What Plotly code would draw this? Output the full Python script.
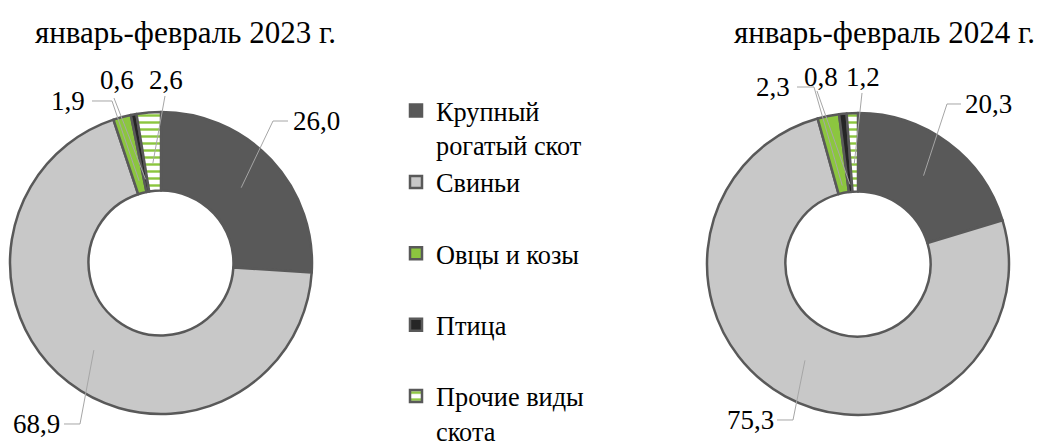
import math
import plotly.graph_objects as go

W, H = 1041, 443

categories = ["Крупный рогатый скот", "Свиньи", "Овцы и козы", "Птица", "Прочие виды скота"]
legend_labels = ["Крупный<br>рогатый скот", "Свиньи<br> ", "Овцы и козы<br> ", "Птица<br> ", "Прочие виды<br>скота"]
values_2023 = [26.0, 68.9, 1.9, 0.6, 2.6]
values_2024 = [20.3, 75.3, 2.3, 0.8, 1.2]
label_text_2023 = ["26,0", "68,9", "1,9", "0,6", "2,6"]
label_text_2024 = ["20,3", "75,3", "2,3", "0,8", "1,2"]
titles = ["январь-февраль 2023 г.", "январь-февраль 2024 г."]

colors = ["#595959", "#c8c8c8", "#8cc63f", "#262626", "#ffffff"]
FONT = "Liberation Serif"

# pie geometry and label placement (pixels)
pies = [
    dict(cx=161, cy=263, r=151, vals=values_2023, txt=label_text_2023, title_x=185,
         text_pos=[(316, 121), (36, 424), (68, 101), (117, 80), (166, 80)],
         waypoints=[[(288, 121), (273, 121)], [(64, 424), (80, 424)],
                    [(92, 101), (112, 101)], [(114, 98)], [(165, 96)]],
         rr=[110, 110, 85, 85, 100]),
    dict(cx=858, cy=264, r=151, vals=values_2024, txt=label_text_2024, title_x=884,
         text_pos=[(988, 104), (750, 420), (773, 87), (821, 77), (863, 77)],
         waypoints=[[(961, 104), (947, 104)], [(777, 420), (793, 420)],
                    [(797, 87), (814, 87)], [(817, 91)], [(862, 93)]],
         rr=[110, 110, 80, 80, 100]),
]


def to_paper(x, y):
    return x / W, 1 - y / H


fig = go.Figure()
annotations = []
shapes = []
for i, p in enumerate(pies):
    x0, y1 = to_paper(p["cx"] - p["r"], p["cy"] - p["r"])
    x1, y0 = to_paper(p["cx"] + p["r"], p["cy"] + p["r"])
    fig.add_trace(go.Pie(
        labels=legend_labels,
        values=p["vals"],
        sort=False,
        direction="clockwise",
        rotation=0,
        hole=0.48,
        textinfo="none",
        hoverinfo="label+value",
        domain=dict(x=[x0, x1], y=[y0, y1]),
        marker=dict(
            colors=colors,
            line=dict(color="#595959", width=2.5),
            pattern=dict(shape=["", "", "", "", "-"], fgcolor="#8cc63f",
                         bgcolor="#ffffff", size=7, solidity=0.35),
        ),
        showlegend=(i == 0),
    ))
    total = sum(p["vals"])
    cum = 0.0
    for v, t, (tx, ty), wps, rr in zip(p["vals"], p["txt"], p["text_pos"],
                                        p["waypoints"], p["rr"]):
        mid = (cum + v / 2) / total * 2 * math.pi
        cum += v
        px = p["cx"] + rr * math.sin(mid)
        py = p["cy"] - rr * math.cos(mid)
        pts = [to_paper(*w) for w in wps] + [to_paper(px, py)]
        path = "M " + " L ".join(f"{a:.5f},{b:.5f}" for a, b in pts)
        shapes.append(dict(type="path", path=path, xref="paper", yref="paper",
                           line=dict(color="#a6a6a6", width=1)))
        ax_, ay_ = to_paper(tx, ty)
        annotations.append(dict(
            x=ax_, y=ay_, xref="paper", yref="paper",
            text=t, showarrow=False, xanchor="center", yanchor="middle",
            font=dict(family=FONT, size=27, color="#000000"),
        ))
    tx_, ty_ = to_paper(p["title_x"], 32)
    annotations.append(dict(
        x=tx_, y=ty_, xref="paper", yref="paper",
        text=titles[i], showarrow=False,
        font=dict(family=FONT, size=31, color="#000000"),
        xanchor="center", yanchor="middle",
    ))

fig.update_layout(
    width=W, height=H,
    margin=dict(l=0, r=0, t=0, b=0, autoexpand=False),
    paper_bgcolor="#ffffff",
    plot_bgcolor="#ffffff",
    font=dict(family=FONT, size=27, color="#000000"),
    annotations=annotations,
    shapes=shapes,
    legend=dict(
        x=396 / W, y=1 - 87 / H, xanchor="left", yanchor="top",
        font=dict(family=FONT, size=26.3, color="#000000"),
        valign="top", traceorder="normal",
        bgcolor="rgba(0,0,0,0)",
        maxheight=600,
    ),
)

fig.write_html("out.html", config={"displayModeBar": False},
               post_script="document.body.style.margin='0';document.body.style.overflow='hidden';")
